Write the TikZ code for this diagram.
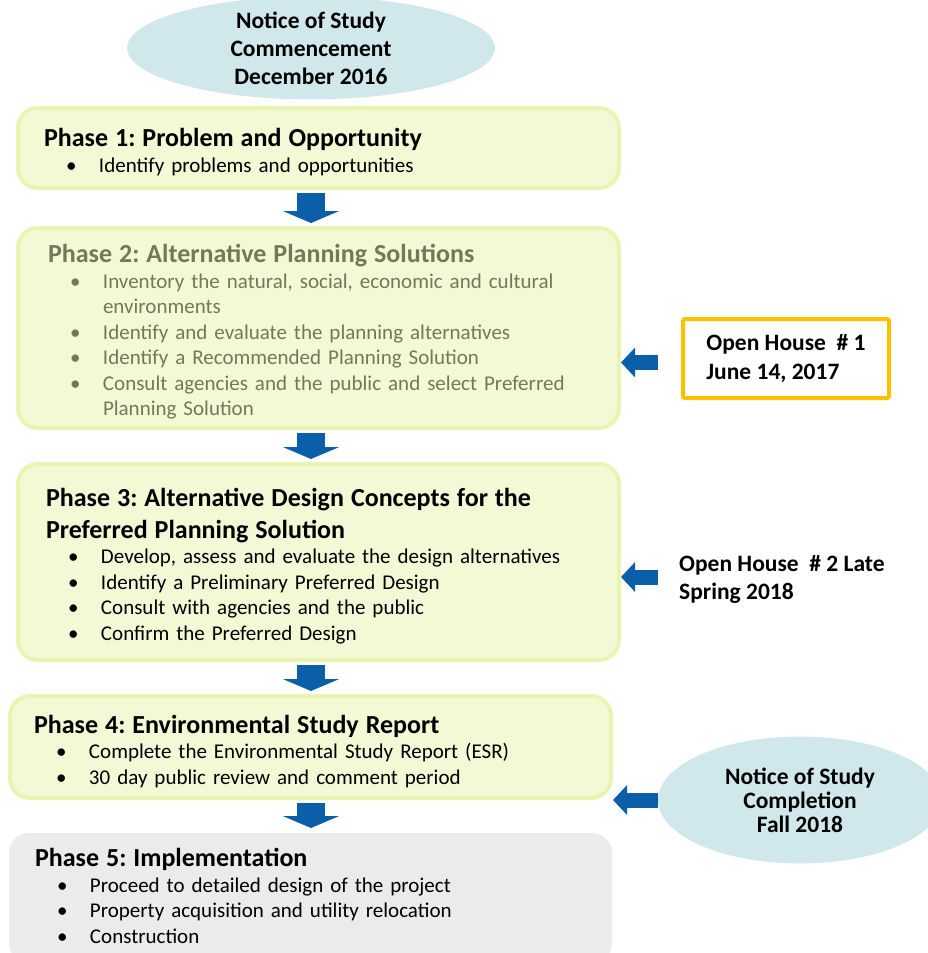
\documentclass[tikz,border=0pt]{standalone}
\usepackage{fontspec}
\setmainfont{Carlito}
\usepackage{xcolor}
\usetikzlibrary{arrows.meta,shapes.geometric}

\definecolor{boxfill}{HTML}{F3F9D5}
\definecolor{boxline}{HTML}{EAF4B2}
\definecolor{blockblue}{HTML}{0B5EA8}
\definecolor{greytext}{HTML}{72785A}
\definecolor{ovalblue}{HTML}{D0E8EC}
\definecolor{implgrey}{HTML}{EBEBEB}
\definecolor{houseorange}{HTML}{FFC000}

\newcommand{\phasetitle}[1]{{\fontsize{26}{32}\selectfont\bfseries\rule{0pt}{26.5pt}#1\par}}
\newcommand{\itm}[1]{\par\noindent\hangindent=55pt\hangafter=0\hspace*{-33pt}\makebox[33pt][l]{\textbullet}#1\par}

\begin{document}
\frenchspacing
\begin{tikzpicture}[x=1pt,y=-1pt,
    phase box/.style={rectangle,rounded corners=20pt,draw=boxline,fill=boxfill,line width=4pt,minimum width=601pt,align=left,inner ysep=0pt,font=\fontsize{21}{25.5}\selectfont},
    oval/.style={ellipse,fill=ovalblue,inner sep=0pt,align=center,font=\fontsize{23.5}{28}\selectfont\bfseries},
    down arrow/.style={line width=28pt,draw=blockblue,-{Triangle[width=56pt,length=12pt]},shorten <=3pt,shorten >=3pt},
    side arrow/.style={line width=15pt,draw=blockblue,-{Triangle[width=29pt,length=14pt]}}]
    \useasboundingbox (0,0) rectangle (928,953);

    \node[oval,minimum width=368pt,minimum height=90pt] (notice) at (311,48) {Notice of Study\\Commencement\\December 2016};

    \node[phase box,inner xsep=26pt,text width=549pt,minimum height=80pt] (p1) at (318.5,148) {%
        \phasetitle{Phase 1: Problem and Opportunity}
        \itm{Identify problems and opportunities}};
    \node[phase box,text=greytext,inner xsep=30pt,text width=541pt,minimum height=200pt] (p2) at (318.5,328) {%
        \phasetitle{Phase 2: Alternative Planning Solutions}
        \itm{Inventory the natural, social, economic and cultural\newline environments}
        \itm{Identify and evaluate the planning alternatives}
        \itm{Identify a Recommended Planning Solution}
        \itm{Consult agencies and the public and select Preferred\newline Planning Solution}};
    \node[phase box,inner xsep=28pt,text width=545pt,minimum height=196pt] (p3) at (318.5,562) {%
        \phasetitle{Phase 3: Alternative Design Concepts for the\\Preferred Planning Solution}
        \itm{Develop, assess and evaluate the design alternatives}
        \itm{Identify a Preliminary Preferred Design}
        \itm{Consult with agencies and the public}
        \itm{Confirm the Preferred Design}};
    \node[phase box,inner xsep=24pt,text width=553pt,minimum height=102pt] (p4) at (310.5,747) {%
        \phasetitle{Phase 4: Environmental Study Report}
        \itm{Complete the Environmental Study Report (ESR)}
        \itm{30 day public review and comment period}};
    \node[phase box,draw=none,fill=implgrey,inner xsep=26pt,text width=551pt,minimum width=603pt,minimum height=130pt] (p5) at (310.5,898) {%
        \phasetitle{Phase 5: Implementation}
        \itm{Proceed to detailed design of the project}
        \itm{Property acquisition and utility relocation}
        \itm{Construction\rule[-13pt]{0pt}{1pt}}};

    \node[draw=houseorange,line width=4pt,rounded corners=2pt,fill=white,align=left,inner xsep=20pt,minimum width=206pt,minimum height=79pt,font=\fontsize{23.5}{29}\selectfont\bfseries] (oh1) at (786,358.5) {Open House\ \ \# 1\\June 14, 2017};
    \node[anchor=west,inner sep=0pt,align=left,font=\fontsize{23.5}{28}\selectfont\bfseries] (oh2) at (679,579) {Open House\ \ \# 2 Late\\Spring 2018};
    \node[oval,minimum width=284pt,minimum height=127pt,font=\fontsize{23.5}{24}\selectfont\bfseries] (notice2) at (800,800) {Notice of Study\\Completion\\Fall 2018};

    \coordinate (oh1 tail) at ([yshift=-4pt]oh1.west);
    \coordinate (oh2 tail) at ([yshift=2pt]oh2.west);

    \draw[down arrow] (p1.south -| notice) -- (p2.north -| notice);
    \draw[down arrow] (p2.south -| notice) -- (p3.north -| notice);
    \draw[down arrow] (p3.south -| notice) -- (p4.north -| notice);
    \draw[down arrow] (p4.south -| notice) -- (p5.north -| notice);

    \draw[side arrow,shorten <=23pt] (oh1 tail) -- (oh1 tail -| p2.east);
    \draw[side arrow,shorten <=21pt] (oh2 tail) -- (oh2 tail -| p3.east);
    \draw[side arrow] (notice2.west) -- (notice2.west -| p4.east);
\end{tikzpicture}
\end{document}
